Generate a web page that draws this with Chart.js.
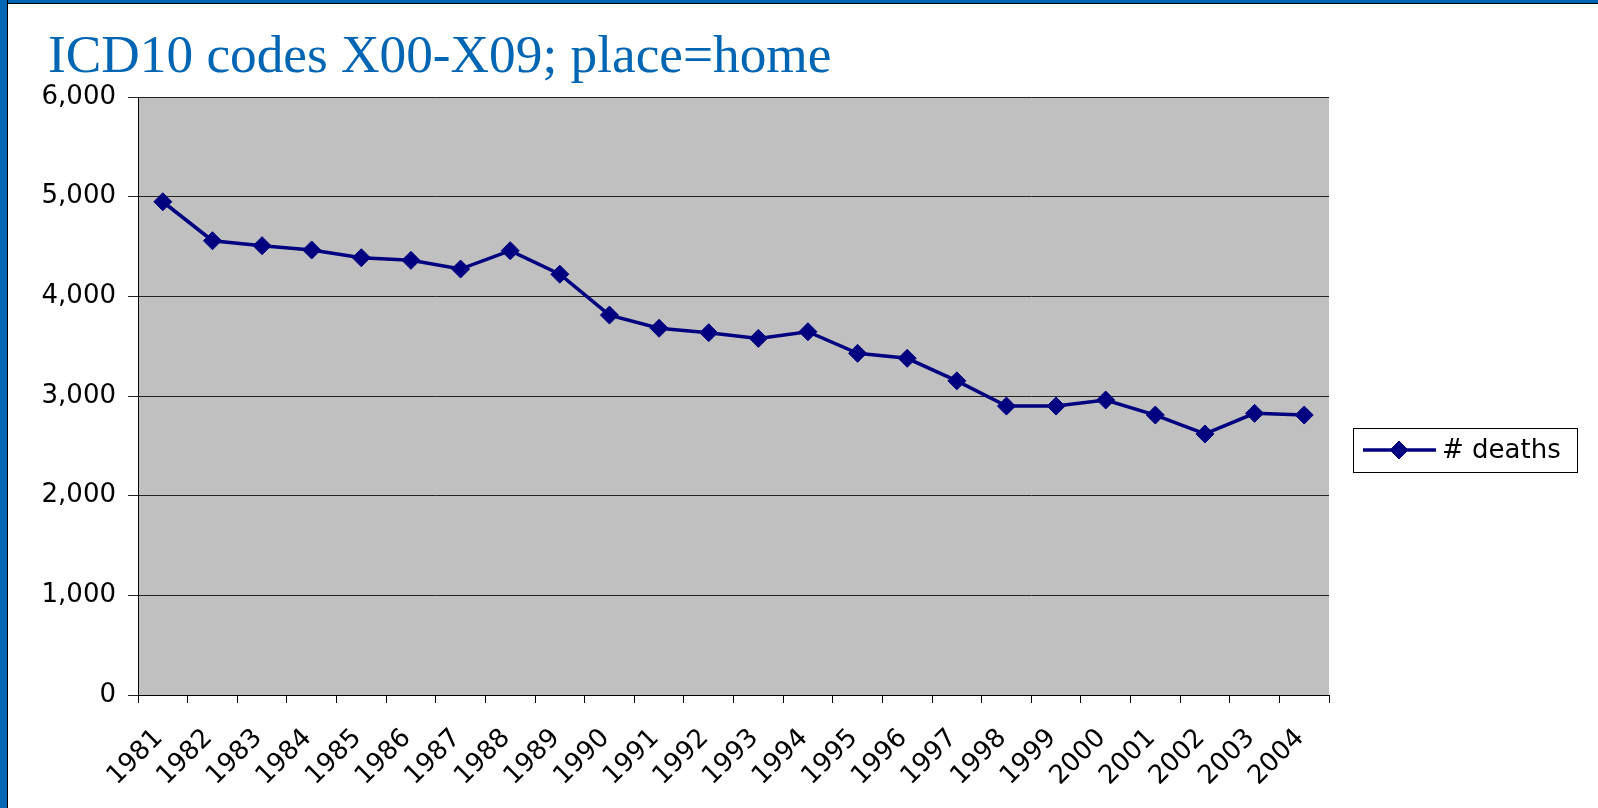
<!DOCTYPE html>
<html>
<head>
<meta charset="utf-8">
<script src="https://cdn.jsdelivr.net/npm/chart.js@4/dist/chart.umd.min.js"></script>
<style>
  html, body { margin: 0; padding: 0; background: #fff; }
  #frame-left { position: absolute; left: 0; top: 0; width: 7px; height: 808px; background: #0066b3; border-right: 1px solid #000; }
  #frame-top { position: absolute; left: 0; top: 0; width: 1598px; height: 3px; background: #0066b3; border-bottom: 1px solid #000; }
  #title {
    position: absolute; left: 48px; top: 28px; margin: 0;
    font: 53.3px "Liberation Serif", "Times New Roman", serif; line-height: 1;
    color: #0066b3; white-space: nowrap; font-weight: normal;
  }
  #wrap { position: absolute; left: 0; top: 0; width: 1598px; height: 808px; }
</style>
</head>
<body>
<div id="wrap"><canvas id="myChart" width="1598" height="808"></canvas></div>
<div id="frame-top"></div>
<div id="frame-left"></div>
<h1 id="title">ICD10 codes X00-X09; place=home</h1>
<script>
const years = ["1981", "1982", "1983", "1984", "1985", "1986", "1987", "1988",
  "1989", "1990", "1991", "1992", "1993", "1994", "1995", "1996", "1997",
  "1998", "1999", "2000", "2001", "2002", "2003", "2004"];
const deaths = [4949, 4558, 4508, 4465, 4387, 4361, 4274, 4458,
  4222, 3812, 3680, 3635, 3578, 3645, 3428, 3378, 3152,
  2899, 2899, 2960, 2809, 2619, 2826, 2809];
const yTicks = [0, 1000, 2000, 3000, 4000, 5000, 6000];
const seriesLabel = "# deaths";

const navy = "#000080";
const sans = "'DejaVu Sans', Verdana, sans-serif";

// grey plot background like the old Excel default
const plotBg = {
  id: "plotBg",
  beforeDraw(chart) {
    const { ctx, chartArea: a } = chart;
    ctx.save();
    ctx.fillStyle = "#c0c0c0";
    ctx.fillRect(a.left, a.top, a.right - a.left, a.bottom - a.top);
    ctx.restore();
  },
};

// boxed legend with a line + diamond sample
const boxLegend = {
  id: "boxLegend",
  afterDraw(chart) {
    const { ctx, chartArea: a } = chart;
    const ds = chart.data.datasets[0];
    const x = a.right + 24, y = a.top + 331, w = 224, h = 44;
    ctx.save();
    ctx.fillStyle = "#fff";
    ctx.fillRect(x, y, w, h);
    ctx.strokeStyle = "#000";
    ctx.lineWidth = 1;
    ctx.strokeRect(x + 0.5, y + 0.5, w, h);
    const cy = y + h / 2;
    ctx.strokeStyle = ds.borderColor;
    ctx.lineWidth = ds.borderWidth;
    ctx.beginPath();
    ctx.moveTo(x + 10, cy);
    ctx.lineTo(x + 83, cy);
    ctx.stroke();
    ctx.fillStyle = ds.backgroundColor;
    ctx.strokeStyle = ds.borderColor;
    ctx.lineWidth = 1;
    Chart.helpers.drawPoint(ctx, {
      pointStyle: "rectRot", radius: ds.pointRadius, borderWidth: 1, rotation: 0,
    }, x + 46, cy);
    ctx.fillStyle = "#000";
    ctx.font = "26px " + sans;
    ctx.textBaseline = "middle";
    ctx.fillText(ds.label, x + 89, cy + 1);
    ctx.restore();
  },
};

new Chart(document.getElementById("myChart"), {
  type: "line",
  data: {
    labels: years,
    datasets: [
      {
        label: seriesLabel,
        data: deaths,
        borderColor: navy,
        backgroundColor: navy,
        borderWidth: 3.5,
        pointStyle: "rectRot",
        pointRadius: 9,
        pointBorderWidth: 1,
        tension: 0,
      },
    ],
  },
  options: {
    responsive: false,
    animation: false,
    devicePixelRatio: 1,
    layout: { padding: { left: 0, top: 97, right: 269, bottom: 0 } },
    plugins: {
      legend: { display: false },
      tooltip: { enabled: false },
    },
    scales: {
      x: {
        type: "category",
        offset: true,
        afterFit(axis) { axis.height = 113; },
        grid: {
          offset: true,
          drawOnChartArea: false,
          drawTicks: true,
          tickLength: 8,
          color: "#000",
        },
        border: { color: "#000", width: 1 },
        ticks: {
          autoSkip: false,
          maxRotation: 45,
          minRotation: 45,
          padding: 20,
          labelOffset: -4,
          color: "#000",
          font: { family: sans, size: 26 },
        },
      },
      y: {
        min: 0,
        max: 6000,
        afterFit(axis) { axis.width = 138; },
        afterBuildTicks(axis) { axis.ticks = yTicks.map((v) => ({ value: v })); },
        grid: { color: "#222", lineWidth: 1, tickLength: 10 },
        border: { color: "#000", width: 1 },
        ticks: {
          padding: 12,
          color: "#000",
          font: { family: sans, size: 26 },
          callback: (v) => v.toLocaleString("en-US"),
        },
      },
    },
  },
  plugins: [plotBg, boxLegend],
});
</script>
</body>
</html>
